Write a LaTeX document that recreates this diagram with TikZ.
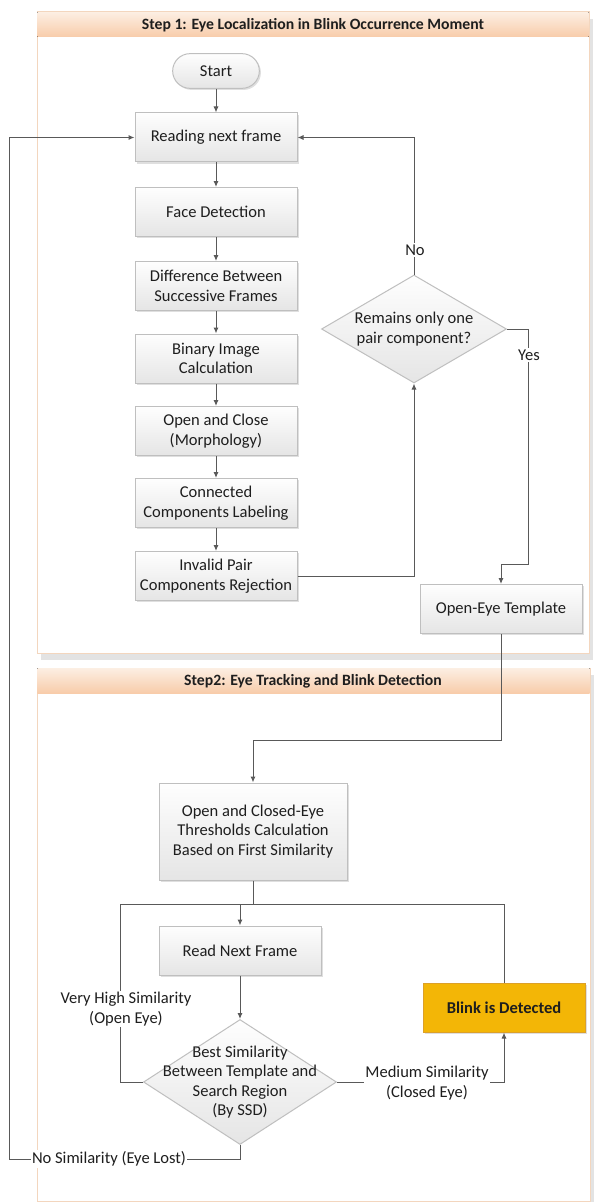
\documentclass[tikz,border=0pt]{standalone}
\usepackage{fontspec}
\setmainfont{Carlito}
\usetikzlibrary{arrows.meta,shapes.geometric,shadows}

\definecolor{linegray}{RGB}{89,89,89}
\definecolor{boxline}{RGB}{191,191,191}
\definecolor{boxtop}{RGB}{254,254,254}
\definecolor{boxbot}{RGB}{229,229,229}
\definecolor{panelline}{RGB}{243,214,190}
\definecolor{headtop}{RGB}{252,238,226}
\definecolor{headbot}{RGB}{248,204,170}
\definecolor{blinkfill}{RGB}{243,182,6}
\definecolor{blinkline}{RGB}{220,160,40}
\definecolor{txt}{RGB}{30,30,30}

\newcommand{\boxfont}{\fontsize{12.4}{14.6}\selectfont}
\newcommand{\headfont}{\fontsize{11.8}{13}\selectfont\bfseries}

\tikzset{every picture/.style={line width=0.75pt}}
\tikzset{
  proc/.style={rectangle, draw=boxline, top color=boxtop, bottom color=boxbot,
    minimum width=121.5pt, minimum height=36.75pt, align=center, inner sep=0.75pt,
    font=\boxfont, text=txt,
    drop shadow={shadow xshift=1.2pt, shadow yshift=-1.2pt, opacity=0.25}},
  termin/.style={proc, rounded corners=13pt, minimum width=65pt, minimum height=26pt},
  decis/.style={diamond, draw=boxline, top color=boxtop, bottom color=boxbot,
    inner sep=0pt},
  dtext/.style={align=center, font=\boxfont, text=txt, inner sep=0pt},
  blinkbox/.style={proc, draw=blinkline, top color=blinkfill, bottom color=blinkfill,
    font=\boxfont\bfseries},
  panel/.style={draw=panelline, fill=white,
    drop shadow={shadow xshift=3pt, shadow yshift=-5pt, opacity=0.22}},
  header/.style={top color=headtop, bottom color=headbot, draw=none},
  htext/.style={font=\headfont, text=txt, inner sep=0.75pt},
  wire/.style={draw=linegray},
  conn/.style={draw=linegray, -{Latex[length=4.5pt,width=3.75pt]}},
  elabel/.style={fill=white, inner sep=1pt, align=center, font=\boxfont, text=txt},
}

\begin{document}
\begin{tikzpicture}[x=0.75pt,y=0.75pt,yscale=-1,xscale=1]
\useasboundingbox (0,0) rectangle (594,1202);

%Panels
\draw[panel] (37,12) rectangle (589,653);
\fill[header] (37.4,12.4) rectangle (588.6,37);
\node[htext] (title1) at (313,25) {Step 1: Eye Localization in Blink Occurrence Moment};
\draw[panel] (37,668) rectangle (590,1201);
\fill[header] (37.4,668.4) rectangle (589.6,693);
\node[htext] (title2) at (313,681) {Step2: Eye Tracking and Blink Detection};

%Step 1 nodes
\node[termin] (start) at (216,71) {Start};
\node[proc] (read) at (216,137.5) {Reading next frame};
\node[proc] (face) at (216,212) {Face Detection};
\node[proc] (diff) at (216,286) {Difference Between\\Successive Frames};
\node[proc] (bin) at (216,358.5) {Binary Image\\Calculation};
\node[proc] (morph) at (216,431) {Open and Close\\(Morphology)};
\node[proc] (ccl) at (216,503) {Connected\\Components Labeling};
\node[proc] (rej) at (216,576) {Invalid Pair\\Components Rejection};
\node[decis, minimum width=138.75pt, minimum height=81pt] (pair) at (414,329) {};
\node[dtext] (pairtxt) at (414,329) {Remains only one\\pair component?};
\node[proc] (tmpl) at (501,609) {Open-Eye Template};

%Step 2 nodes
\node[proc, minimum width=141pt, minimum height=72.75pt] (thresh) at (253,831.5) {Open and Closed-Eye\\Thresholds Calculation\\Based on First Similarity};
\node[proc] (next) at (240,950.5) {Read Next Frame};
\node[decis, minimum width=144.75pt, minimum height=93.75pt] (ssd) at (240,1082) {};
\node[dtext] (ssdtxt) at (240,1082) {Best Similarity\\Between Template and\\Search Region\\(By SSD)};
\node[blinkbox] (blink) at (504,1007.5) {Blink is Detected};

%Bends
\coordinate (yesbend) at (528,564);
\coordinate (tmplbend) at (501,740);
\coordinate (tjoin) at (253,904);
\coordinate (join) at (240,904);
\coordinate (loopL) at (120,904);
\coordinate (loopR) at (504,904);
\coordinate (lostbend) at (240,1159);
\coordinate (lostL) at (9.5,1159);

%Connectors, step 1
\draw[conn] (start) -- (read);
\foreach \a/\b in {read/face, face/diff, diff/bin, bin/morph, morph/ccl, ccl/rej}
  \draw[conn] (\a) -- (\b);
\draw[conn] (rej.east) -| (pair.south);
\draw[conn] (pair.north) |- (read.east);
\draw[conn] (pair.east) -| (yesbend) -| (tmpl.north);
\draw[conn] (tmpl.south) -- (tmplbend) -| (thresh.north);

%Connectors, step 2
\draw[wire] (thresh.south) -- (tjoin);
\draw[wire] (ssd.west) -| (loopL) -- (loopR) -- (blink.north);
\draw[conn] (join) -- (next.north);
\draw[conn] (next) -- (ssd.north);
\draw[conn] (ssd.east) -| (blink.south);
\draw[conn] (ssd.south) -- (lostbend) -- (lostL) |- (read.west);

%Labels
\node[elabel] (nolab) at (415,250) {No};
\node[elabel] (yeslab) at (529,355) {Yes};
\node[elabel] (highlab) at (126,1009) {Very High Similarity\\(Open Eye)};
\node[elabel] (medlab) at (427,1083) {Medium Similarity\\(Closed Eye)};
\node[elabel] (lostlab) at (109,1159) {No Similarity (Eye Lost)};

\end{tikzpicture}
\end{document}
